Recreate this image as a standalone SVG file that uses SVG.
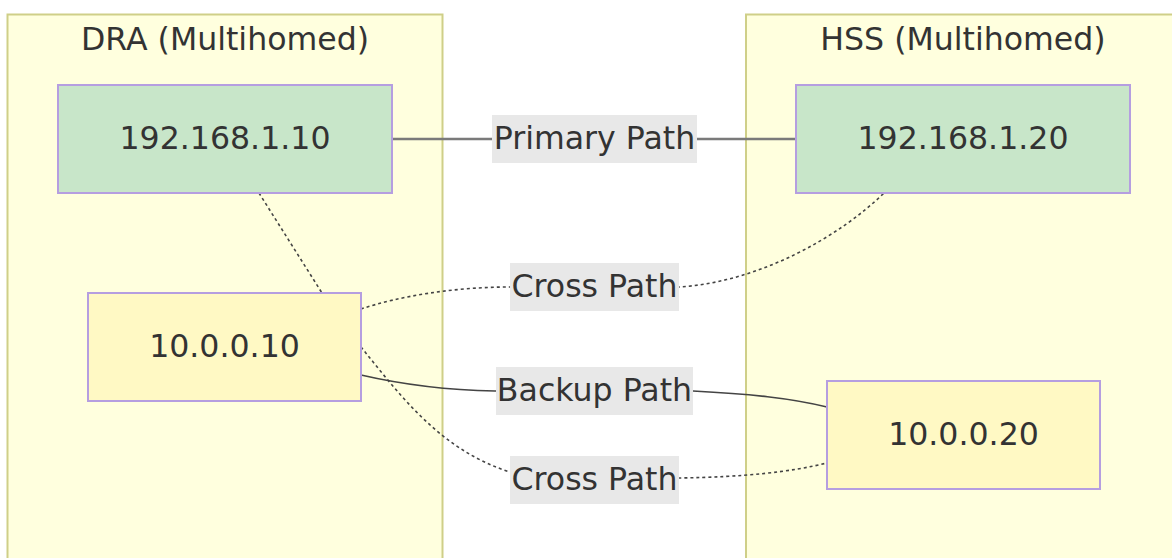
<svg xmlns="http://www.w3.org/2000/svg" width="1172" height="558" viewBox="0 0 1172 558">
  <style>
    text { font-family: "DejaVu Sans", Verdana, sans-serif; font-size: 31.6px; fill: #333333; text-anchor: middle; }
    .cluster { fill: #ffffde; stroke: #cfcf88; stroke-width: 2; }
    .node-ip4 { fill: #c8e6c9; stroke: #b59ee0; stroke-width: 2; }
    .node-priv { fill: #fff9c4; stroke: #b59ee0; stroke-width: 2; }
    .edge { fill: none; stroke: #444444; stroke-width: 1.6; }
    .edge.primary { stroke: #7a7a7a; stroke-width: 2.4; }
    .edge.dotted { stroke-dasharray: 3 3; }
    .label-bg { fill: #e8e8e8; }
  </style>

  <!-- clusters -->
  <g id="cluster-dra">
    <rect class="cluster" x="7.5" y="14.5" width="435" height="560"/>
    <text x="225" y="49.5">DRA (Multihomed)</text>
  </g>
  <g id="cluster-hss">
    <rect class="cluster" x="746" y="14.5" width="436" height="560"/>
    <text x="963" y="49.5">HSS (Multihomed)</text>
  </g>

  <!-- connectors -->
  <g id="connectors">
    <path class="edge primary" d="M392,139 L796,139"/>
    <path class="edge dotted" d="M259,193 L322,293"/>
    <path class="edge dotted" d="M361,309 C400,296 455,287 510,287 L679,287 C760,282 840,236 884,193"/>
    <path class="edge" d="M361,375 C400,384 440,390 495,391 L693,391 C750,394 790,398 827,407"/>
    <path class="edge dotted" d="M361,347 C400,395 440,450 510,472 L679,478 C745,477 790,472 827,463"/>
  </g>

  <!-- connector labels -->
  <g id="label-primary">
    <rect class="label-bg" x="492" y="115" width="205" height="48"/>
    <text x="594.5" y="149">Primary Path</text>
  </g>
  <g id="label-cross-top">
    <rect class="label-bg" x="510" y="263" width="169" height="48"/>
    <text x="594.5" y="297">Cross Path</text>
  </g>
  <g id="label-backup">
    <rect class="label-bg" x="496" y="367" width="197" height="48"/>
    <text x="594.5" y="401">Backup Path</text>
  </g>
  <g id="label-cross-bottom">
    <rect class="label-bg" x="510" y="456" width="169" height="48"/>
    <text x="594.5" y="490">Cross Path</text>
  </g>

  <!-- nodes -->
  <g id="dra-primary">
    <rect class="node-ip4" x="58" y="85" width="334" height="108"/>
    <text x="225" y="149">192.168.1.10</text>
  </g>
  <g id="dra-backup">
    <rect class="node-priv" x="88" y="293" width="273" height="108"/>
    <text x="224.5" y="357">10.0.0.10</text>
  </g>
  <g id="hss-primary">
    <rect class="node-ip4" x="796" y="85" width="334" height="108"/>
    <text x="963" y="149">192.168.1.20</text>
  </g>
  <g id="hss-backup">
    <rect class="node-priv" x="827" y="381" width="273" height="108"/>
    <text x="963.5" y="445">10.0.0.20</text>
  </g>
</svg>
